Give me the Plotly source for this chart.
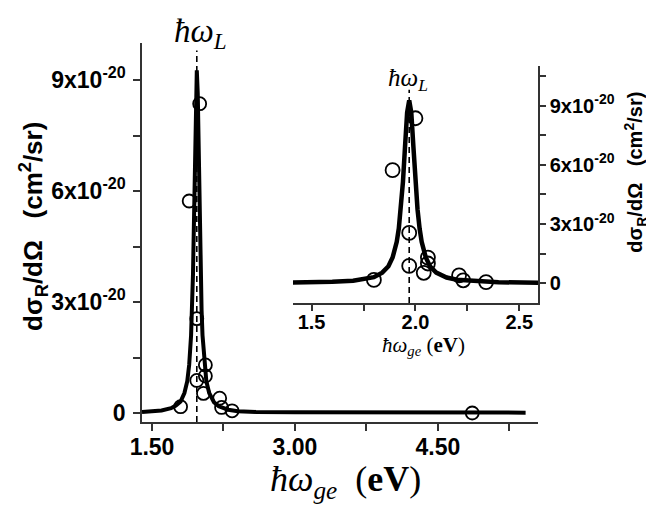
import plotly.graph_objects as go

# ---- data (energies in eV, cross sections in units of 1e-20 cm^2/sr) ----
curve_x = [1.395, 1.50, 1.60, 1.70, 1.75, 1.80, 1.84, 1.87, 1.89, 1.91, 1.92, 1.93,
           1.94, 1.95, 1.96, 1.97, 1.98, 1.99, 2.00, 2.01, 2.02, 2.03, 2.05, 2.07,
           2.10, 2.15, 2.20, 2.30, 2.40, 2.59, 3.00, 4.00, 5.42]
curve_y = [0.03, 0.04, 0.07, 0.13, 0.20, 0.31, 0.54, 0.86, 1.30, 2.10, 2.78, 3.75,
           5.15, 6.95, 8.65, 9.26, 8.65, 6.95, 5.15, 3.75, 2.78, 2.10, 1.30, 0.86,
           0.54, 0.29, 0.18, 0.09, 0.05, 0.03, 0.02, 0.01, 0.01]

data_x = [1.80, 1.89, 1.97, 1.97, 2.00, 2.04, 2.06, 2.06, 2.21, 2.23, 2.34, 4.86]
data_y = [0.17, 5.73, 2.55, 0.88, 8.36, 0.53, 1.30, 1.00, 0.40, 0.15, 0.06, 0.00]

hw_L = 1.97
dash_top = 9.8

main_xticks = [1.50, 3.00, 4.50]
main_xtick_text = ["1.50", "3.00", "4.50"]
inset_xticks = [1.5, 2.0, 2.5]
inset_xtick_text = ["1.5", "2.0", "2.5"]
yticks = [0, 3, 6, 9]
ytick_text = ["0", "3x10<sup>-20</sup>", "6x10<sup>-20</sup>", "9x10<sup>-20</sup>"]

main_xrange = [1.395, 5.55]
main_yrange = [-0.243, 10.0]
inset_xrange = [1.41, 2.59]
inset_yrange = [-1.0, 11.0]

SANS = "Liberation Sans, Arial, sans-serif"
SERIF = "Liberation Serif, Times New Roman, serif"
AXC = "#333333"

fig = go.Figure()

# main panel
fig.add_trace(go.Scatter(x=[hw_L, hw_L], y=[main_yrange[0], dash_top], mode="lines",
                         line=dict(color="black", width=1.6, dash="6px,4px"),
                         xaxis="x", yaxis="y", hoverinfo="skip"))
fig.add_trace(go.Scatter(x=curve_x, y=curve_y, mode="lines",
                         line=dict(color="black", width=4),
                         xaxis="x", yaxis="y"))
fig.add_trace(go.Scatter(x=data_x, y=data_y, mode="markers",
                         marker=dict(symbol="circle-open", size=13, color="black",
                                     line=dict(width=1.8, color="black")),
                         xaxis="x", yaxis="y"))

# inset panel
fig.add_trace(go.Scatter(x=[hw_L, hw_L], y=[inset_yrange[0], dash_top], mode="lines",
                         line=dict(color="black", width=1.6, dash="6px,4px"),
                         xaxis="x2", yaxis="y2", hoverinfo="skip"))
fig.add_trace(go.Scatter(x=curve_x, y=curve_y, mode="lines",
                         line=dict(color="black", width=4.5),
                         xaxis="x2", yaxis="y2"))
fig.add_trace(go.Scatter(x=data_x, y=data_y, mode="markers",
                         marker=dict(symbol="circle-open", size=14, color="black",
                                     line=dict(width=1.8, color="black")),
                         xaxis="x2", yaxis="y2", cliponaxis=True))

tickfont_main = dict(family=SANS, size=23, color="black", weight="bold")
tickfont_inset = dict(family=SANS, size=20, color="black", weight="bold")

# the page body adds an 8 px offset, so the figure is 8 px smaller and shifted margins
fig.update_layout(
    width=646, height=497,
    margin=dict(l=134, r=116, t=35, b=83),
    paper_bgcolor="white", plot_bgcolor="rgba(0,0,0,0)",
    showlegend=False,
    xaxis=dict(domain=[0, 1], range=main_xrange, showgrid=False, zeroline=False,
               showline=True, linecolor=AXC, linewidth=1.5, mirror=False,
               ticks="outside", ticklen=7, tickwidth=1.5, tickcolor=AXC,
               tickvals=main_xticks, ticktext=main_xtick_text, tickfont=tickfont_main,
               ticklabelstandoff=-3,
               minor=dict(tickvals=[2.25, 3.75, 5.25], ticks="outside", ticklen=7,
                          tickwidth=1.5, tickcolor=AXC),
               anchor="y"),
    yaxis=dict(domain=[0, 1], range=main_yrange, showgrid=False, zeroline=False,
               showline=True, linecolor=AXC, linewidth=1.5,
               ticks="outside", ticklen=7, tickwidth=1.5, tickcolor=AXC,
               tickvals=yticks, ticktext=ytick_text, tickfont=tickfont_main,
               ticklabelstandoff=3,
               minor=dict(tickvals=[1.5, 4.5, 7.5], ticks="outside", ticklen=7,
                          tickwidth=1.5, tickcolor=AXC),
               anchor="x"),
    xaxis2=dict(domain=[0.381, 1.0], range=inset_xrange, showgrid=False, zeroline=False,
                showline=True, linecolor=AXC, linewidth=1.5,
                ticks="outside", ticklen=6, tickwidth=1.5, tickcolor=AXC,
                tickvals=inset_xticks, ticktext=inset_xtick_text, tickfont=tickfont_inset,
                ticklabelstandoff=-6,
                minor=dict(tickvals=[1.75, 2.25], ticks="outside", ticklen=6,
                           tickwidth=1.5, tickcolor=AXC),
                anchor="y2"),
    yaxis2=dict(domain=[0.314, 0.939], range=inset_yrange, showgrid=False, zeroline=False,
                showline=True, linecolor=AXC, linewidth=1.5, side="right",
                ticks="outside", ticklen=6, tickwidth=1.5, tickcolor=AXC,
                tickvals=yticks, ticktext=ytick_text, tickfont=tickfont_inset,
                minor=dict(tickvals=[1.5, 4.5, 7.5, 10.5], ticks="outside", ticklen=6,
                           tickwidth=1.5, tickcolor=AXC),
                anchor="x2"),
)

nb = "\u00a0"
ann = [
    # main x title
    dict(text="<i>ħω</i><sub><i>ge</i></sub>" + nb * 2 + "(<b>eV</b>)",
         x=0.513, y=-0.158, font=dict(family=SERIF, size=36, color="black"),
         xanchor="center", yanchor="middle"),
    # inset x title
    dict(text="<i>ħω</i><sub><i>ge</i></sub>" + nb + "(<b>eV</b>)",
         x=0.712, y=0.200, font=dict(family=SERIF, size=21, color="black"),
         xanchor="center", yanchor="middle"),
    # main y title
    dict(text="dσ<sub>R</sub>/dΩ" + nb * 3 + "(cm<sup>2</sup>/sr)",
         x=-0.275, y=0.515, textangle=-90,
         font=dict(family=SANS, size=26, color="black", weight="bold"),
         xanchor="center", yanchor="middle"),
    # inset y title
    dict(text="dσ<sub>R</sub>/dΩ" + nb * 3 + "(cm<sup>2</sup>/sr)",
         x=1.247, y=0.66, textangle=-90,
         font=dict(family=SANS, size=20, color="black", weight="bold"),
         xanchor="center", yanchor="middle"),
    # hbar omega_L labels
    dict(text="<i>ħω</i><sub><i>L</i></sub>", x=0.0758, y=1.026,
         font=dict(family=SERIF, size=33, color="black"),
         xanchor="left", yanchor="middle"),
    dict(text="<i>ħω</i><sub><i>L</i></sub>", x=0.616, y=0.905,
         font=dict(family=SERIF, size=25, color="black"),
         xanchor="left", yanchor="middle"),
]
for a in ann:
    a.update(xref="paper", yref="paper", showarrow=False)
fig.update_layout(annotations=ann)

fig.write_html("out.html")
